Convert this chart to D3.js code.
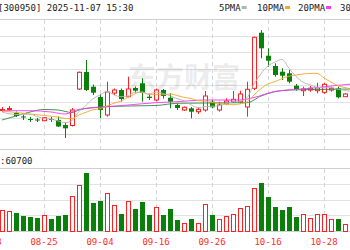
<!DOCTYPE html>
<meta charset="utf-8">
<style>
  body { margin: 0; background: #fff; }
  svg text { font-family: "DejaVu Sans Mono", monospace; font-size: 9px; }
</style>
<svg width="350" height="250"></svg>
<script src="https://d3js.org/d3.v7.min.js"></script>
<script>

// trading days 08-15 .. 11-03
var dates = ["08-15","08-18","08-19","08-20","08-21","08-22","08-25","08-26","08-27","08-28",
  "08-29","09-01","09-02","09-03","09-04","09-05","09-08","09-09","09-10","09-11",
  "09-12","09-15","09-16","09-17","09-18","09-19","09-22","09-23","09-24","09-25",
  "09-26","09-29","09-30","10-09","10-10","10-13","10-14","10-15","10-16","10-17",
  "10-20","10-21","10-22","10-23","10-24","10-27","10-28","10-29","10-30","10-31","11-03"];

var open  = [22.45,22.55,22.20,21.85,21.60,21.55,21.43,21.60,21.50,21.00,20.95,24.60,26.30,24.83,23.80,22.00,24.20,24.50,23.83,24.70,
  25.17,23.83,23.50,24.50,23.73,23.00,22.50,22.67,22.33,22.50,23.33,22.50,23.17,23.33,23.33,22.80,24.67,30.23,27.93,26.90,
  26.33,26.17,24.93,24.43,24.50,24.43,24.27,24.50,24.67,23.83,23.90];
var close = [22.55,22.65,21.90,21.75,21.50,21.45,21.73,21.50,20.85,20.67,22.50,26.27,24.50,24.23,22.50,24.30,24.50,23.60,24.60,24.43,
  24.20,23.70,24.50,23.90,23.33,22.70,22.77,22.33,22.57,23.90,22.77,23.00,23.40,23.57,24.10,24.57,29.77,28.67,27.43,26.00,
  25.93,25.33,24.60,24.60,24.67,24.70,25.07,24.67,23.77,24.10,24.10];
var high  = [22.80,22.90,22.35,22.00,21.80,21.70,21.80,21.80,21.85,21.20,22.70,26.35,27.50,25.05,24.10,25.33,24.65,24.65,25.83,24.85,
  25.67,24.15,24.65,24.60,24.17,23.17,22.85,22.80,22.77,24.40,23.50,23.33,23.67,24.40,24.43,25.33,29.83,30.50,28.67,27.17,
  26.67,26.50,25.10,24.83,24.90,25.23,25.23,24.83,24.83,24.20,24.30];
var low   = [22.30,22.40,21.80,21.50,21.30,21.30,21.40,21.30,20.80,19.70,20.85,24.50,24.40,24.00,21.70,21.83,24.00,23.35,23.77,24.25,
  23.33,23.50,23.35,23.65,22.67,22.50,22.40,21.67,22.10,22.33,22.67,22.33,23.00,23.23,23.17,21.83,24.50,27.67,26.83,25.83,
  25.50,25.17,24.43,23.90,24.33,24.17,24.10,24.33,23.67,23.80,23.80];
var volume = [200000,190000,171000,143000,133000,124000,152000,114000,143000,152000,333000,438000,552000,267000,286000,362000,248000,162000,286000,210000,
  276000,152000,229000,152000,210000,105000,76000,114000,76000,257000,152000,114000,143000,162000,219000,238000,410000,457000,324000,229000,
  200000,229000,133000,162000,124000,162000,162000,114000,114000,67000,60700];

// moving averages: [bar index, value]
var ma5 = [[0,22.30],[2,22.05],[4,22.07],[5,21.85],[6,21.67],[7,21.59],[8,21.41],[9,21.24],[10,21.45],[11,22.36],[12,22.96],[13,23.63],
  [14,24.00],[15,24.36],[16,24.01],[17,23.83],[18,23.90],[19,24.29],[20,24.27],[21,24.11],[22,24.29],[23,24.15],[24,23.93],[25,23.63],
  [26,23.44],[27,23.01],[28,22.74],[29,22.85],[30,22.87],[31,22.91],[32,23.13],[33,23.33],[34,23.37],[35,23.73],[36,25.08],[37,26.14],
  [38,26.91],[39,27.29],[40,27.56],[41,26.67],[42,25.86],[43,25.29],[44,25.03],[45,24.78],[46,24.73],[47,24.74],[48,24.58],[49,24.46],[50,24.34]];
var ma10 = [[0,22.40],[2,22.25],[4,22.10],[6,21.95],[8,21.80],[9,21.66],[10,21.65],[11,22.01],[12,22.27],[13,22.52],[14,22.62],[15,22.91],
  [16,23.18],[17,23.39],[18,23.77],[19,24.14],[20,24.31],[21,24.06],[22,24.06],[23,24.02],[24,24.11],[25,23.95],[26,23.77],[27,23.65],
  [28,23.44],[29,23.39],[30,23.25],[31,23.18],[32,23.07],[33,23.03],[34,23.11],[35,23.30],[36,24.00],[37,24.63],[38,25.12],[39,25.33],
  [40,25.64],[41,25.88],[42,26.00],[43,26.10],[44,26.16],[45,26.17],[46,25.70],[47,25.30],[48,24.93],[49,24.74],[50,24.56]];
var ma20 = [[0,22.43],[4,22.43],[7,22.30],[9,22.10],[11,22.57],[14,22.77],[18,23.00],[22,23.23],[25,23.33],[29,23.50],[34,23.50],
  [36,23.75],[39,24.36],[41,24.50],[44,24.67],[47,24.90],[50,25.10]];
var ma30 = [[0,21.50],[2,21.90],[4,22.30],[6,22.55],[8,22.50],[10,22.25],[11,22.50],[14,22.80],[18,22.90],[22,22.95],[25,23.17],
  [29,23.20],[35,23.23],[37,23.90],[39,24.33],[41,24.50],[45,24.55],[50,24.60]];

var tickIdx = [-2, 6, 14, 22, 30, 38, 46];
var tickLabels = ["08-13","08-25","09-04","09-16","09-26","10-16","10-28"];

var maNames = ["5PMA", "10PMA", "20PMA", "30PMA"];
var maColors = ["#b4b4b4", "#f5a623", "#ff33ff", "#2e8b3e"];

var svg = d3.select("svg");

var x = d3.scaleLinear().domain([0, 50]).range([2, 352]);
var yP = d3.scaleLinear().domain([20, 31.6]).range([135, 19]);
var yV = d3.scaleLinear().domain([0, 600000]).range([231, 168]);
var gridP = d3.scaleLinear().domain([0, 7]).range([135, 19]);

function px(v) { return Math.round(v) + 0.5; }

// horizontal grid
svg.append("g").selectAll("line").data(d3.range(1, 7)).enter().append("line")
  .attr("x1", 0).attr("x2", 350)
  .attr("y1", function(d) { return px(gridP(d)); }).attr("y2", function(d) { return px(gridP(d)); })
  .attr("stroke", "#e2e2e2");
svg.append("g").selectAll("line").data([150000, 300000, 450000]).enter().append("line")
  .attr("x1", 0).attr("x2", 350)
  .attr("y1", function(d) { return px(yV(d)); }).attr("y2", function(d) { return px(yV(d)); })
  .attr("stroke", "#e2e2e2");
// frame lines
svg.append("g").selectAll("line").data([19, 134, 149, 168, 231]).enter().append("line")
  .attr("x1", 0).attr("x2", 350)
  .attr("y1", function(d) { return d + 0.5; }).attr("y2", function(d) { return d + 0.5; })
  .attr("stroke", "#cfcfcf");

// vertical dashed grid
var vg = svg.append("g").selectAll("g").data(tickIdx).enter().append("g");
vg.append("line")
  .attr("x1", function(d) { return px(x(d)); }).attr("x2", function(d) { return px(x(d)); })
  .attr("y1", 20).attr("y2", 149)
  .attr("stroke", "#d4d4d4").attr("stroke-dasharray", "4,3");
vg.append("line")
  .attr("x1", function(d) { return px(x(d)); }).attr("x2", function(d) { return px(x(d)); })
  .attr("y1", 169).attr("y2", 231)
  .attr("stroke", "#d4d4d4").attr("stroke-dasharray", "4,3");

// watermark
svg.append("text").attr("x", 128).attr("y", 88)
  .style("font-family", "Noto Sans CJK SC").style("font-size", "28px").style("font-weight", "bold")
  .attr("fill", "#000").attr("opacity", 0.07).text("东方财富");

// candles
var bars = d3.range(dates.length);
var up = function(i) { return close[i] >= open[i]; };
var cg = svg.append("g").selectAll("g").data(bars).enter().append("g");
cg.append("line")
  .attr("x1", function(i) { return px(x(i)); }).attr("x2", function(i) { return px(x(i)); })
  .attr("y1", function(i) { return yP(high[i]); }).attr("y2", function(i) { return yP(low[i]); })
  .attr("stroke", function(i) { return up(i) ? "#ff2020" : "#0a800a"; });
cg.append("rect")
  .attr("x", function(i) { return Math.round(x(i)) - 2 + (up(i) ? 0.5 : 0); })
  .attr("width", function(i) { return up(i) ? 4 : 5; })
  .attr("y", function(i) { return yP(Math.max(open[i], close[i])); })
  .attr("height", function(i) { return Math.max(1, yP(Math.min(open[i], close[i])) - yP(Math.max(open[i], close[i]))); })
  .attr("fill", function(i) { return up(i) ? "#fff" : "#0a800a"; })
  .attr("stroke", function(i) { return up(i) ? "#ff2020" : "none"; });

// moving averages
var maLine = d3.line().x(function(d) { return x(d[0]); }).y(function(d) { return yP(d[1]); }).curve(d3.curveMonotoneX);
[ma30, ma20, ma10, ma5].forEach(function(s, k) {
  svg.append("path").attr("d", maLine(s)).attr("fill", "none")
    .attr("stroke", maColors[3 - k]).attr("stroke-width", 1).attr("opacity", 0.9);
});

// volume bars
svg.append("g").selectAll("rect").data(bars).enter().append("rect")
  .attr("x", function(i) { return Math.round(x(i)) - 2 + (up(i) ? 0.5 : 0); })
  .attr("width", function(i) { return up(i) ? 4 : 5; })
  .attr("y", function(i) { return Math.round(yV(volume[i])) + (up(i) ? 0.5 : 0); })
  .attr("height", function(i) { return 231 - Math.round(yV(volume[i])); })
  .attr("fill", function(i) { return up(i) ? "#fff" : "#0a800a"; })
  .attr("stroke", function(i) { return up(i) ? "#ff2020" : "none"; });

// header
svg.append("text").attr("x", -2).attr("y", 11).attr("fill", "#222").text("[300950] 2025-11-07 15:30");
var legX = [219, 257, 298, 340];
var lg = svg.append("g").selectAll("g").data(maNames).enter().append("g");
lg.append("text").attr("x", function(d, i) { return legX[i]; }).attr("y", 11).attr("fill", "#222").text(function(d) { return d; });
lg.append("rect").attr("x", function(d, i) { return legX[i] + d.length * 5.42 + 1; }).attr("y", 6)
  .attr("width", 5).attr("height", 3).attr("fill", function(d, i) { return maColors[i]; });

// volume label
svg.append("text").attr("x", 0).attr("y", 164).attr("fill", "#222").text(":60700");

// date labels
svg.append("g").selectAll("text").data(tickIdx).enter().append("text")
  .attr("x", function(d) { return x(d); }).attr("y", 245)
  .attr("text-anchor", "middle").attr("fill", "#ff2a2a")
  .text(function(d, i) { return tickLabels[i]; });

</script>
